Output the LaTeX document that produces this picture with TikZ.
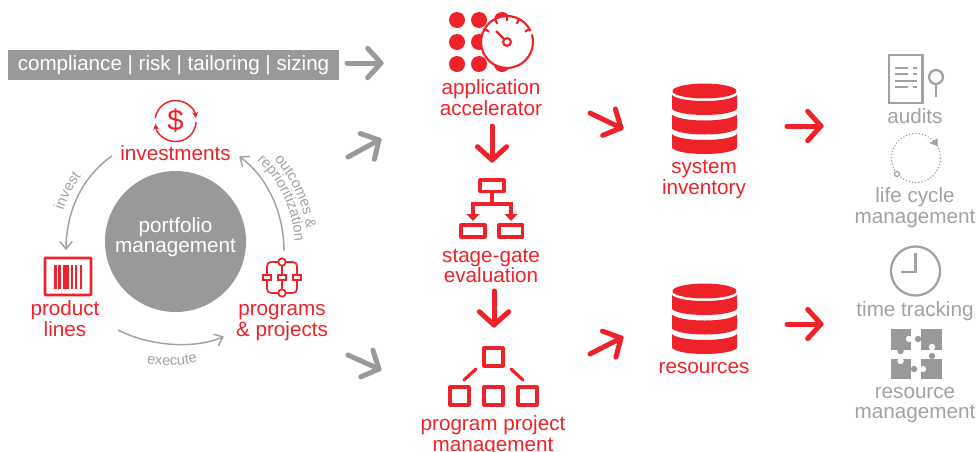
\documentclass[tikz,border=0pt]{standalone}
\usepackage{fontspec}
\setmainfont{Liberation Sans}
\usetikzlibrary{arrows.meta,decorations.text}
\definecolor{rd}{HTML}{EE2229}
\definecolor{gy}{HTML}{99999B}
\definecolor{gt}{HTML}{A2A2A4}
\pgfdeclarearrow{
 name=Chev,
 parameters={\the\pgfarrowlength,\the\pgfarrowwidth},
 setup code={%
  \pgfarrowssettipend{0.5\pgfarrowlinewidth}%
  \pgfarrowssetlineend{-0.5\pgfarrowlinewidth}%
  \pgfarrowssetbackend{-\pgfarrowlength}%
  \pgfarrowssavethe\pgfarrowlength
  \pgfarrowssavethe\pgfarrowwidth},
 drawing code={%
  \pgfsetroundcap\pgfsetroundjoin\pgfsetdash{}{0pt}%
  \pgfpathmoveto{\pgfqpoint{-\pgfarrowlength}{.5\pgfarrowwidth}}%
  \pgfpathlineto{\pgfpointorigin}%
  \pgfpathlineto{\pgfqpoint{-\pgfarrowlength}{-.5\pgfarrowwidth}}%
  \pgfusepathqstroke},
 defaults={length=10pt,width=22pt}
}
\tikzset{
 lbl/.style={align=center,inner sep=0pt,font=\fontsize{15.5}{15.4}\selectfont},
 redlbl/.style={lbl,text=rd},
 greylbl/.style={lbl,text=gt},
 bigg/.style={line width=3.75pt,line cap=round,color=gy,-{Chev[length=10pt,width=22pt]}},
 bigr/.style={line width=3.75pt,line cap=round,color=rd,-{Chev[length=10pt,width=22pt]}},
 thinarc/.style={line width=1.1pt,color=gt,-{Chev[length=5.5pt,width=9pt]}},
 ric/.style={draw=rd,line width=2.4pt,line join=round},
 gic/.style={draw=gt,line width=1.7pt},
 smalltext/.style={decoration={text along path,text align=center,text={#1}},decorate},
}
\newcommand{\smf}{|\fontsize{11}{11}\selectfont\color{gt}|}
\newcommand{\dbicon}[1]{%
 \begin{scope}[yshift=#1]
 \fill[rd] (704.5,91) ellipse [x radius=24pt,y radius=5.6pt];
 \foreach \t in {95,114.5,134}{
  \fill[rd] (672,\t) .. controls (680,\t+8) and (729,\t+8) .. (737,\t) -- (737,\t+14) .. controls (729,\t+22) and (680,\t+22) .. (672,\t+14) -- cycle;
 }
 \end{scope}}
\begin{document}
\begin{tikzpicture}[x=0.75pt,y=-0.75pt]
\useasboundingbox (0,0) rectangle (977,451);
% bar
\node[fill=gy,minimum width=248.25pt,minimum height=22.5pt,inner sep=0pt,text=white,font=\fontsize{15.45}{15.4}\selectfont] (bar) at (173.5,65) {compliance | risk | tailoring | sizing};
% portfolio circle
\node[circle,fill=gy,minimum size=105.75pt,inner sep=0pt] (pm) at (175.5,241.5) {};
\node[lbl,text=white] (pml) at (175.5,237) {portfolio\\management};
% arrows grey
\coordinate (g1a) at (347,63); \coordinate (g1b) at (381,63);
\coordinate (g2a) at (348,157); \coordinate (g2b) at (379,140);
\coordinate (g3a) at (348,355); \coordinate (g3b) at (379,369);
\draw[bigg] (g1a) -- (g1b);
\draw[bigg] (g2a) -- (g2b);
\draw[bigg] (g3a) -- (g3b);
% arrows red
\coordinate (r1a) at (492,126); \coordinate (r1b) at (492,160);
\coordinate (r2a) at (494,291); \coordinate (r2b) at (494,325);
\coordinate (r3a) at (590,113); \coordinate (r3b) at (621,128);
\coordinate (r4a) at (590,354); \coordinate (r4b) at (621,338);
\coordinate (r5a) at (787,126); \coordinate (r5b) at (821,126);
\coordinate (r6a) at (787,324); \coordinate (r6b) at (821,324);
\foreach \p/\q in {r1a/r1b,r2a/r2b,r3a/r3b,r4a/r4b,r5a/r5b,r6a/r6b}{\draw[bigr] (\p) -- (\q);}
% cycle arcs
\coordinate (ia) at (112,156); \coordinate (ib) at (66,249);
\coordinate (oa) at (284,251); \coordinate (ob) at (240,157);
\coordinate (ea) at (118,330); \coordinate (eb) at (223,337);
\coordinate (cyc) at (175,248);
\draw[thinarc] (ia) .. controls (82,176.5) and (66,212) .. (ib);
\draw[thinarc] (oa) .. controls (284,215) and (269,178) .. (ob);
\draw[thinarc] (ea) .. controls (145,344) and (190,351) .. (eb);
\path[smalltext={\smf invest}] (cyc) ++(172:88.5pt) arc[start angle=172,end angle=132,radius=88.5pt];
\path[smalltext={\smf outcomes {\&}}] (cyc) ++(65:99.75pt) arc[start angle=65,end angle=-15,radius=99.75pt];
\path[smalltext={\smf reprioritization}] (cyc) ++(65:90pt) arc[start angle=65,end angle=-15,radius=90pt];
\path[smalltext={\smf execute}] (136,360) .. controls (155,367.5) and (188,367.5) .. (208,358);
% labels
\node[redlbl] (investl) at (175.5,153) {investments};
\node[redlbl] (prodl) at (65,318.5) {product\\lines};
\node[redlbl] (progl) at (282,322.5) {programs\\\& projects};
\node[redlbl] (appl) at (491,97.5) {application\\accelerator};
\node[redlbl] (stagel) at (491,266) {stage-gate\\evaluation};
\node[redlbl] (ppml) at (493,435.5) {program project\\management};
\node[redlbl] (sysl) at (704,179.5) {system\\inventory};
\node[redlbl] (resl) at (704,368) {resources};
\node[greylbl] (audl) at (915,116) {audits};
\node[greylbl] (lcl) at (915,207.5) {life cycle\\management};
\node[greylbl] (ttl) at (915,311) {time tracking};
\node[greylbl] (rml) at (915,405) {resource\\management};
% dollar icon
\coordinate (dc) at (175.6,121);
\draw[rd,line width=1.1pt,-{Stealth[length=4.5pt,width=4.5pt]}] (dc) ++(172:15.4pt) arc[start angle=172,end angle=8,radius=15.4pt];
\draw[rd,line width=1.1pt,-{Stealth[length=4.5pt,width=4.5pt]}] (dc) ++(-3:15.4pt) arc[start angle=-3,end angle=-172,radius=15.4pt];
\node[inner sep=0pt,text=rd,font=\fontsize{22}{22}\selectfont] (dollar) at (dc) {\$};
% barcode
\draw[rd,line width=2.1pt,rounded corners=0.5pt] (45,258) rectangle (91,295);
\foreach \a/\b in {54/56.7,58.3/61,63.3/69,71/72.7,75.3/77,80/82}{\fill[rd] (\a,264.5) rectangle (\b,288.5);}
% programs icon
\draw[rd,line width=1.3pt,rounded corners=3pt] (267,262) rectangle (297,293);
\draw[rd,line width=1.3pt] (282,262) -- (282,293);
\foreach \a in {267,282,297}{\draw[rd,line width=1.3pt,fill=white] (\a-4,274.8) rectangle (\a+4,279.8);}
\foreach \b in {262,293}{\draw[rd,line width=1.3pt,fill=white] (282,\b) circle [radius=2.8pt];}
% accelerator icon
\foreach \a in {457,479,502}{\foreach \b in {20,42,64}{\fill[rd] (\a,\b) circle [radius=6pt];}}
\coordinate (gc) at (507,42);
\fill[white] (gc) circle [radius=19.5pt];
\draw[rd,line width=1.6pt] (gc) ++(25:19.5pt) arc[start angle=25,end angle=377,radius=19.5pt];
\foreach \ang in {150,118,90,62,30}{\draw[rd,line width=1.6pt] (gc) ++(\ang:19.5pt) -- ++(\ang+180:4pt);}
\coordinate (nd) at (496,31);
\draw[rd,line width=1.6pt] (nd) -- (504,39);
\draw[rd,line width=1.6pt,fill=white] (gc) circle [radius=2.9pt];
% stage-gate icon
\draw[ric] (480,180) rectangle (504,191.5);
\draw[rd,line width=2.4pt] (492,192) -- (492,204) (473,216) -- (473,204) -- (511,204) -- (511,216);
\fill[rd] (466.5,214) -- (479.5,214) -- (473,221) -- cycle;
\fill[rd] (504.5,214) -- (517.5,214) -- (511,221) -- cycle;
\draw[ric] (461,225) rectangle (485,237);
\draw[ric] (499,225) rectangle (522.5,237);
% program project icon
\foreach \a/\b in {484/348,450/387,484/387,518/387}{\draw[ric] (\a,\b) rectangle (\a+19,\b+18);}
\draw[rd,line width=2.4pt,line cap=round] (476,369) -- (464,380) (511,369) -- (523,380);
% databases
\dbicon{0pt}
\dbicon{-150pt}
% audits icon
\draw[gic] (889,55) rectangle (922.5,103);
\draw[gt,line width=1.7pt] (895,68) -- (907.5,68) (912.5,68) -- (917,68)
 (895,74) -- (907.5,74) (912.5,74) -- (917,74)
 (895,81) -- (917,81)
 (895,87) -- (907.5,87) (912.5,87) -- (917,87);
\draw[gic] (936,77) circle [radius=5.2pt];
\draw[gic] (936,84) -- (936,97);
% life cycle icon
\coordinate (lc) at (916,158);
\draw[gt,line width=1.25pt,line cap=round,dash pattern=on 0pt off 2.4pt] (lc) circle [radius=18.4pt];
\fill[gt] (929,143) -- (937.5,138.5) -- (937.5,146) -- cycle;
\draw[gt,line width=0.9pt,fill=white] (897,174) circle [radius=1.9pt];
% clock icon
\coordinate (ck) at (915.5,271);
\draw[gic] (ck) circle [radius=18.4pt];
\draw[gic] (915.5,253) -- (915.5,272) -- (901,272);
% puzzle icon
\fill[gy] (891,329) rectangle (911,349.5);
\fill[gy] (921,329) rectangle (942,349.5);
\fill[gy] (891,359) rectangle (911,379);
\fill[gy] (921,359) rectangle (942,379);
\fill[gy] (900.5,351) circle [radius=2.4pt];
\fill[gy] (918,339) circle [radius=2.4pt];
\fill[gy] (932,356) circle [radius=2.4pt];
\fill[gy] (914,369) circle [radius=2.4pt];
\fill[white] (909,339) circle [radius=2.4pt];
\fill[white] (932,347) circle [radius=2.4pt];
\fill[white] (900.5,361) circle [radius=2.4pt];
\fill[white] (923,369) circle [radius=2.4pt];
\end{tikzpicture}
\end{document}
